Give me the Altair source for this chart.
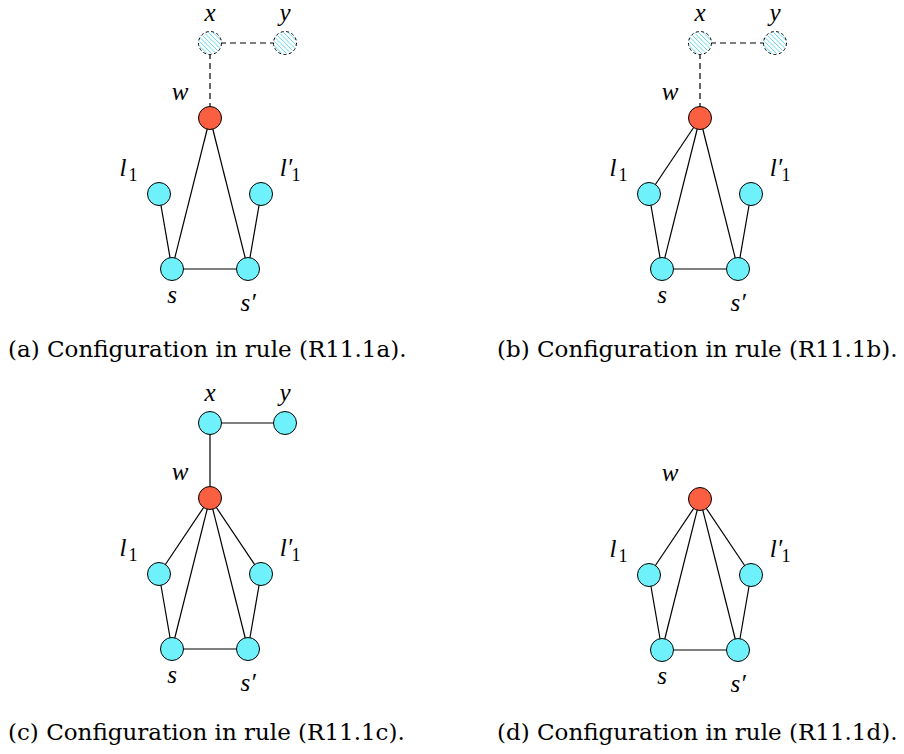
import altair as alt
import pandas as pd
import numpy as np

# ---- data -------------------------------------------------------------
panel_ids = ["a", "b", "c", "d"]
panel_dx = [0, 490, 0, 490]
panel_dy = [0, 0, 380, 381]
captions = ["(a) Configuration in rule (R11.1a).",
            "(b) Configuration in rule (R11.1b).",
            "(c) Configuration in rule (R11.1c).",
            "(d) Configuration in rule (R11.1d)."]
caption_x = [8, 497, 8, 497]
caption_y = [357, 357, 740, 740]

node_names = ["x", "y", "w", "l1", "l1p", "s", "sp"]
node_x = [210, 285, 210, 159, 261, 172, 248]
node_y = [43, 43, 118, 194, 194, 269, 269]

# node style per panel: hatched / hub / plain / absent
node_style = {
    "a": ["hatched", "hatched", "hub", "plain", "plain", "plain", "plain"],
    "b": ["hatched", "hatched", "hub", "plain", "plain", "plain", "plain"],
    "c": ["plain", "plain", "hub", "plain", "plain", "plain", "plain"],
    "d": [None, None, "hub", "plain", "plain", "plain", "plain"],
}

edges = {
    "a": [("x", "y", "dashed"), ("x", "w", "dashed"), ("w", "s", "solid"),
          ("w", "sp", "solid"), ("l1", "s", "solid"), ("l1p", "sp", "solid"),
          ("s", "sp", "solid")],
    "b": [("x", "y", "dashed"), ("x", "w", "dashed"), ("w", "l1", "solid"),
          ("w", "s", "solid"), ("w", "sp", "solid"), ("l1", "s", "solid"),
          ("l1p", "sp", "solid"), ("s", "sp", "solid")],
    "c": [("x", "y", "solid"), ("x", "w", "solid"), ("w", "l1", "solid"),
          ("w", "s", "solid"), ("w", "sp", "solid"), ("w", "l1p", "solid"),
          ("l1", "s", "solid"), ("l1p", "sp", "solid"), ("s", "sp", "solid")],
    "d": [("w", "l1", "solid"), ("w", "s", "solid"), ("w", "sp", "solid"),
          ("w", "l1p", "solid"), ("l1", "s", "solid"), ("l1p", "sp", "solid"),
          ("s", "sp", "solid")],
}

label_node = ["x", "y", "w", "l1", "l1p", "s", "sp"]
label_text = ["x", "y", "w", "l", "l\u2032", "s", "s\u2032"]
label_x = [210, 285, 180, 123, 286, 172, 248]
label_y = [21, 21, 100, 176, 176, 303, 311]
sub_node = ["l1", "l1p"]
sub_text = ["1", "1"]
sub_x = [133, 296]
sub_y = [181, 181]

NODE_R = 11.5
CYAN = "#6ff1fb"
RED = "#f95f40"

# ---- build tables ------------------------------------------------------
node_rows, edge_rows, label_rows, sub_rows, hatch_rows, cap_rows = [], [], [], [], [], []
for i, p in enumerate(panel_ids):
    dx, dy = panel_dx[i], panel_dy[i]
    pos = {n: (node_x[k] + dx, node_y[k] + dy) for k, n in enumerate(node_names)}
    present = {n for k, n in enumerate(node_names) if node_style[p][k] is not None}
    for k, n in enumerate(node_names):
        st = node_style[p][k]
        if st is None:
            continue
        node_rows.append(dict(panel=p, node=n, x=pos[n][0], y=pos[n][1], style=st))
        if st == "hatched":
            cx, cy = pos[n]
            for d in np.arange(-9.6, 9.7, 3.2):
                h = np.sqrt(max(NODE_R ** 2 - d ** 2, 0)) - 0.8
                px, py = cx + d / np.sqrt(2), cy - d / np.sqrt(2)
                hatch_rows.append(dict(x=px - h / np.sqrt(2), y=py - h / np.sqrt(2),
                                       x2=px + h / np.sqrt(2), y2=py + h / np.sqrt(2)))
    for a, b, s in edges[p]:
        edge_rows.append(dict(panel=p, x=pos[a][0], y=pos[a][1],
                              x2=pos[b][0], y2=pos[b][1], style=s))
    for k, n in enumerate(label_node):
        if n in present:
            label_rows.append(dict(text=label_text[k], x=label_x[k] + dx, y=label_y[k] + dy))
    for k, n in enumerate(sub_node):
        if n in present:
            sub_rows.append(dict(text=sub_text[k], x=sub_x[k] + dx, y=sub_y[k] + dy))
    cap_rows.append(dict(text=captions[i], x=caption_x[i], y=caption_y[i]))

nodes = pd.DataFrame(node_rows)
edges_df = pd.DataFrame(edge_rows)
labels = pd.DataFrame(label_rows)
subs = pd.DataFrame(sub_rows)
hatch = pd.DataFrame(hatch_rows)
caps = pd.DataFrame(cap_rows)

W, H = 888, 738
xs = alt.Scale(domain=[8, 8 + W], nice=False, zero=False)
ys = alt.Scale(domain=[8 + H, 8], nice=False, zero=False)
X = lambda f="x": alt.X(f"{f}:Q", scale=xs, axis=None)
Y = lambda f="y": alt.Y(f"{f}:Q", scale=ys, axis=None)

MATH = "Liberation Serif, serif"
CAP = "DejaVu Serif, serif"

solid_edges = alt.Chart(edges_df[edges_df["style"] == "solid"]).mark_rule(
    color="black", strokeWidth=1.2).encode(x=X(), y=Y(), x2="x2:Q", y2="y2:Q")
dashed_edges = alt.Chart(edges_df[edges_df["style"] == "dashed"]).mark_rule(
    color="black", strokeWidth=1.2, strokeDash=[6, 4]).encode(x=X(), y=Y(), x2="x2:Q", y2="y2:Q")

size = (2 * NODE_R) ** 2
plain_nodes = alt.Chart(nodes[nodes["style"] != "hatched"]).mark_point(
    shape="circle", filled=True, stroke="black", strokeWidth=1, opacity=1, size=size
).encode(x=X(), y=Y(),
         fill=alt.Fill("style:N", scale=alt.Scale(domain=["plain", "hub"], range=[CYAN, RED]), legend=None))

hn = nodes[nodes["style"] == "hatched"]
hatched_bg = alt.Chart(hn).mark_point(
    shape="circle", filled=True, fill="white", strokeWidth=0, opacity=1, size=size
).encode(x=X(), y=Y())
hatch_lines = alt.Chart(hatch).mark_rule(color="#62dcef", strokeWidth=1).encode(
    x=X(), y=Y(), x2="x2:Q", y2="y2:Q")
hatched_outline = alt.Chart(hn).mark_point(
    shape="circle", filled=False, stroke="black", strokeWidth=1, strokeDash=[3, 2.5], opacity=1, size=size
).encode(x=X(), y=Y())

math_labels = alt.Chart(labels).mark_text(
    font=MATH, fontStyle="italic", fontSize=25, baseline="alphabetic", align="center", color="black"
).encode(x=X(), y=Y(), text="text:N")
sub_labels = alt.Chart(subs).mark_text(
    font=MATH, fontSize=18, baseline="alphabetic", align="center", color="black"
).encode(x=X(), y=Y(), text="text:N")
cap_labels = alt.Chart(caps).mark_text(
    font=CAP, fontSize=23, baseline="alphabetic", align="left", color="black"
).encode(x=X(), y=Y(), text="text:N")

chart = alt.layer(
    solid_edges, dashed_edges, plain_nodes, hatched_bg, hatch_lines, hatched_outline,
    math_labels, sub_labels, cap_labels
).properties(
    width=W, height=H, padding=0, autosize=alt.AutoSizeParams(type="none")
).configure(background="white", view=alt.ViewConfig(stroke=None))

chart.save("out.html", embed_options={"renderer": "svg", "actions": False})
